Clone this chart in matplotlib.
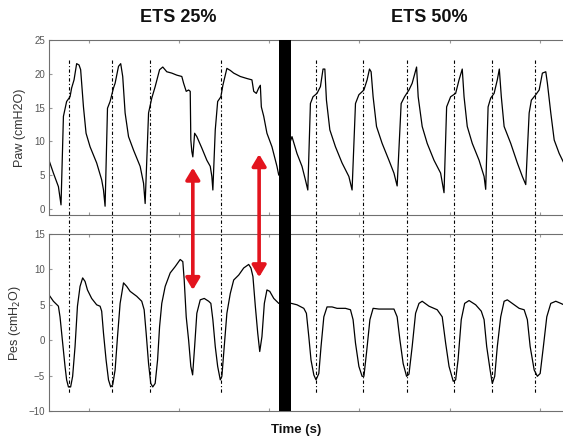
import numpy as np
import matplotlib
matplotlib.use("Agg")
import matplotlib.pyplot as plt
from matplotlib.patches import Rectangle, ConnectionPatch
from matplotlib.lines import Line2D
import matplotlib.transforms as mtransforms

plt.rcParams["font.family"] = ["Liberation Sans", "DejaVu Sans"]

# airway pressure trace (time in s, cmH2O)
paw_t = [0.0, 0.22, 0.47, 0.60, 0.72, 0.88, 1.05, 1.13, 1.25, 1.38, 1.50, 1.58, 1.72, 1.85, 2.05,
         2.38, 2.63, 2.72, 2.80, 2.92, 3.05, 3.22, 3.30, 3.47, 3.58, 3.68, 3.80, 3.97, 4.22, 4.55,
         4.72, 4.80, 4.97, 5.13, 5.30, 5.52, 5.68, 5.88, 6.13, 6.38, 6.63, 6.72, 6.85, 6.97, 7.05,
         7.08, 7.13, 7.18, 7.27, 7.38, 7.63, 7.88, 8.05, 8.13, 8.18, 8.30, 8.42, 8.58, 8.68, 8.88,
         9.05, 9.22, 9.55, 9.88, 10.13, 10.22, 10.35, 10.47, 10.55, 10.60, 10.72, 10.88, 11.13,
         11.38, 11.47,
         12.13, 12.38, 12.63, 12.80, 12.92, 13.05, 13.18, 13.38, 13.55, 13.68, 13.77, 13.85, 14.02,
         14.30, 14.63, 14.97, 15.13, 15.30, 15.47, 15.72, 15.88, 16.00, 16.08, 16.18, 16.35, 16.63,
         16.97, 17.22, 17.38, 17.58, 17.75, 17.97, 18.13, 18.35, 18.43, 18.63, 18.88, 19.22, 19.55,
         19.72, 19.85, 20.05, 20.30, 20.47, 20.63, 20.72, 20.88, 21.13, 21.47, 21.72, 21.80, 21.92,
         22.05, 22.22, 22.38, 22.48, 22.58, 22.72, 23.05, 23.38, 23.63, 23.80, 23.97, 24.08, 24.30,
         24.47, 24.63, 24.80, 24.88, 25.05, 25.22, 25.47, 25.70]
paw_v = [7.2, 5.3, 3.3, 0.6, 13.7, 15.9, 16.6, 17.9, 19.1, 21.5, 21.3, 20.6, 15.1, 11.2, 9.2,
         6.8, 4.3, 2.8, 0.4, 14.9, 15.9, 17.9, 18.6, 21.1, 21.5, 19.6, 14.2, 10.7, 8.7, 6.3,
         3.8, 0.8, 14.2, 16.4, 18.1, 20.6, 21.0, 20.3, 20.1, 19.8, 19.6, 18.6, 17.4, 17.6, 17.4,
         10.2, 8.5, 7.7, 11.2, 10.7, 9.0, 7.2, 6.3, 4.8, 2.8, 11.7, 15.9, 16.6, 18.3, 20.8,
         20.5, 20.1, 19.6, 19.3, 19.1, 17.4, 17.1, 17.9, 18.3, 15.1, 13.7, 11.2, 9.2,
         6.3, 5.0,
         10.7, 8.2, 6.3, 4.3, 2.8, 15.6, 16.6, 17.1, 18.1, 20.7, 20.7, 16.1, 11.7,
         9.2, 6.8, 4.8, 2.8, 15.6, 16.9, 17.6, 19.1, 20.7, 20.3, 16.6, 12.2, 9.7,
         7.2, 5.3, 3.4, 15.6, 16.6, 17.6, 18.6, 21.0, 16.6, 12.2, 9.7, 7.2, 5.3,
         2.4, 15.1, 16.6, 17.1, 19.1, 20.7, 16.6, 12.2, 9.7, 7.2, 4.8, 2.9, 15.1,
         16.4, 17.1, 19.1, 20.7, 16.6, 12.2, 9.7, 6.8, 4.8, 3.6, 14.2, 16.1, 16.9,
         17.6, 20.1, 20.3, 18.6, 14.2, 10.2, 8.2, 6.8]

# esophageal pressure trace (time in s, cmH2O)
pes_t = [0.0, 0.22, 0.47, 0.55, 0.68, 0.80, 0.88, 0.97, 1.08, 1.18, 1.30, 1.42, 1.55, 1.68, 1.80,
         1.92, 2.13, 2.38, 2.55, 2.63, 2.72, 2.85, 2.97, 3.08, 3.18, 3.30, 3.42, 3.55, 3.72, 3.88,
         4.05, 4.38, 4.63, 4.75, 4.85, 4.97, 5.08, 5.18, 5.30, 5.42, 5.52, 5.63, 5.80, 6.05, 6.30,
         6.55, 6.68, 6.75, 6.85, 6.97, 7.08, 7.17, 7.27, 7.38, 7.55, 7.75, 7.97, 8.08, 8.18, 8.30,
         8.42, 8.55, 8.63, 8.75, 8.88, 9.05, 9.22, 9.47, 9.72, 9.97, 10.08, 10.18, 10.30, 10.42,
         10.52, 10.63, 10.75, 10.88, 11.02, 11.22, 11.47,
         12.10, 12.38, 12.72, 12.85, 12.97, 13.08, 13.22, 13.33, 13.47, 13.58, 13.72, 13.88, 14.13,
         14.38, 14.80, 15.05, 15.18, 15.30, 15.47, 15.63, 15.72, 15.85, 16.02, 16.18, 16.47, 16.80,
         17.22, 17.38, 17.52, 17.68, 17.85, 17.97, 18.13, 18.30, 18.47, 18.63, 18.97, 19.38, 19.63,
         19.80, 19.97, 20.18, 20.30, 20.42, 20.58, 20.75, 20.97, 21.30, 21.58, 21.72, 21.85, 22.02,
         22.13, 22.25, 22.38, 22.55, 22.72, 22.88, 23.22, 23.47, 23.72, 23.88, 24.02, 24.22, 24.38,
         24.52, 24.68, 24.85, 25.05, 25.30, 25.55, 25.70]
pes_v = [6.4, 5.5, 4.8, 3.3, -0.4, -3.7, -5.6, -6.6, -6.6, -5.1, -0.9, 4.8, 7.6, 8.8, 8.3,
         7.1, 5.9, 5.0, 4.8, 4.1, 1.0, -2.8, -5.6, -6.6, -6.3, -4.2, 0.5, 5.2, 8.1, 7.6,
         6.9, 6.2, 5.5, 4.3, 1.0, -3.3, -6.1, -6.6, -6.1, -2.8, 1.9, 5.2, 7.6, 9.5, 10.4,
         11.4, 11.1, 8.5, 3.3, 0.0, -3.7, -4.9, -0.9, 3.8, 5.7, 5.9, 5.5, 5.2, 2.9, -0.9,
         -3.7, -5.6, -5.1, -0.9, 3.8, 6.6, 8.5, 9.2, 10.2, 10.7, 10.2, 9.0, 4.8, 1.0,
         -1.6, 0.5, 5.2, 7.1, 6.9, 5.9, 5.2,
         5.2, 5.0, 4.5, 3.8, 0.5, -2.8, -4.9, -5.6, -4.7, -0.9, 3.3, 4.7, 4.7,
         4.5, 4.5, 4.3, 2.9, -0.4, -3.7, -5.1, -5.1, -1.8, 2.9, 4.5, 4.4, 4.4,
         4.4, 3.3, 0.0, -3.3, -5.1, -4.8, -0.9, 3.8, 5.2, 5.5, 4.8, 4.3, 3.3,
         -0.4, -3.7, -5.8, -5.6, -2.8, 2.9, 5.2, 5.6, 5.0, 4.1, 2.9, -0.9, -4.2,
         -6.1, -5.1, -0.9, 3.3, 5.5, 5.7, 5.0, 4.5, 4.3, 2.9, -0.9, -4.2, -5.1,
         -4.7, -0.9, 3.3, 5.2, 5.5, 5.2, 5.0]

# breath onset markers (s)
onsets = [1.0, 3.15, 5.05, 8.6, 13.35, 15.7, 17.85, 20.2, 22.1, 24.25]
# gap between the two recordings (s)
gap = (11.5, 12.1)
# double arrows: time, Paw end, Pes end
arrow_t = [7.18, 10.49]
arrow_paw = [6.1, 8.1]
arrow_pes = [7.1, 8.9]

W, H = 563, 443
fig = plt.figure(figsize=(W / 100, H / 100), dpi=100)
ax1 = fig.add_axes([49 / W, 1 - 215 / H, 1 - 49 / W + 0.005, 175 / H])
ax2 = fig.add_axes([49 / W, 1 - 411 / H, 1 - 49 / W + 0.005, 177 / H], sharex=ax1)

ax1.plot(paw_t, paw_v, color="black", lw=0.9)
ax2.plot(pes_t, pes_v, color="black", lw=0.9)

ax1.set_xlim(0, 25.8)
ax1.set_ylim(-0.9, 25)
ax2.set_ylim(-10, 15)
ax1.set_yticks([0, 5, 10, 15, 20, 25])
ax2.set_yticks([-10, -5, 0, 5, 10, 15])

for ax in (ax1, ax2):
    for s in ax.spines.values():
        s.set_color("#707070")
        s.set_linewidth(0.8)
    ax.tick_params(axis="y", direction="in", length=2, labelsize=7, labelcolor="#555555",
                   color="#999999", right=True, pad=3)
    ax.tick_params(axis="x", direction="in", length=2, top=True, labelbottom=False,
                   color="#999999")
    ax.set_xticks(np.arange(2, 26, 4.5))

ax1.set_ylabel("Paw (cmH2O)", fontsize=9, color="#333333", labelpad=6)
ax2.set_ylabel("Pes (cmH$_2$O)", fontsize=9, color="#333333", labelpad=4)

# onset lines span both panels
tr = mtransforms.blended_transform_factory(ax1.transData, fig.transFigure)
for t in onsets:
    fig.add_artist(Line2D([t, t], [1 - 60 / H, 1 - 394 / H], transform=tr, color="black",
                          lw=0.8, linestyle=(0, (3, 2, 1, 2))))

# black bar separating the two settings
fig.add_artist(Rectangle((gap[0], 1 - 411 / H), gap[1] - gap[0], (411 - 40) / H,
                         transform=tr, facecolor="black", edgecolor="none", zorder=5))

for t, a, b in zip(arrow_t, arrow_paw, arrow_pes):
    con = ConnectionPatch(xyA=(t, a), coordsA=ax1.transData, xyB=(t, b), coordsB=ax2.transData,
                          arrowstyle="<|-|>,head_length=0.5,head_width=0.3", color="#e3141e",
                          lw=2.6, mutation_scale=14, zorder=6)
    fig.add_artist(con)

fig.text(178 / W, 1 - 17 / H, "ETS 25%", fontsize=13, fontweight="bold", ha="center", va="center",
         color="#111111")
fig.text(429 / W, 1 - 17 / H, "ETS 50%", fontsize=13, fontweight="bold", ha="center", va="center",
         color="#111111")
fig.text(296 / W, 1 - 430 / H, "Time (s)", fontsize=9.5, fontweight="bold", ha="center", va="center",
         color="#111111")

fig.savefig("out.png", dpi=100)
